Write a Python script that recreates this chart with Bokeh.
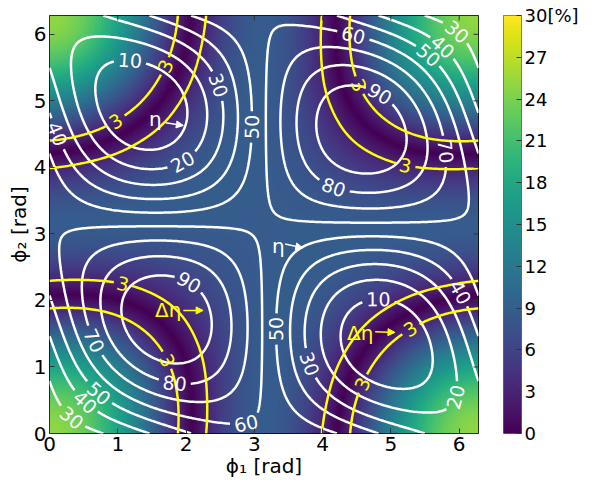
import numpy as np
from bokeh.plotting import figure
from bokeh.plotting.contour import contour_data
from bokeh.models import (ColumnDataSource, LinearColorMapper, FixedTicker,
                          Arrow, NormalHead, Range1d)
from bokeh.layouts import row
from bokeh.palettes import Viridis256
from bokeh.embed import file_html
from bokeh.resources import INLINE
from bokeh.core.properties import value

# ---------------- values ----------------
# grid nodes (degrees) for both phases; rows = phi2, columns = phi1
phi_nodes_deg = [0, 30, 60, 90, 120, 150, 180, 210, 240, 270, 300, 330, 360]

# efficiency eta [%] (white contours)
eta = [
    [25.0, 27.3, 33.4, 41.8, 50.3, 56.4, 58.7, 56.4, 50.3, 41.8, 33.4, 27.3, 25.0],
    [27.3, 41.5, 56.1, 67.2, 71.8, 68.7, 58.7, 44.5, 29.8, 18.7, 14.1, 17.2, 27.3],
    [33.4, 56.1, 76.1, 88.0, 88.7, 78.0, 58.7, 36.0, 16.0, 4.1, 3.4, 14.1, 33.4],
    [41.8, 67.2, 88.0, 98.8, 96.5, 81.8, 58.7, 33.3, 12.5, 1.8, 4.1, 18.7, 41.8],
    [50.3, 71.8, 88.7, 96.5, 92.9, 79.1, 58.7, 37.1, 20.2, 12.5, 16.0, 29.8, 50.3],
    [56.4, 68.7, 78.0, 81.8, 79.1, 70.7, 58.7, 46.4, 37.1, 33.3, 36.0, 44.5, 56.4],
    [58.7, 58.7, 58.7, 58.7, 58.7, 58.7, 58.7, 58.7, 58.7, 58.7, 58.7, 58.7, 58.7],
    [56.4, 44.5, 36.0, 33.3, 37.1, 46.4, 58.7, 70.7, 79.1, 81.8, 78.0, 68.7, 56.4],
    [50.3, 29.8, 16.0, 12.5, 20.2, 37.1, 58.7, 79.1, 92.9, 96.5, 88.7, 71.8, 50.3],
    [41.8, 18.7, 4.1, 1.8, 12.5, 33.3, 58.7, 81.8, 96.5, 98.8, 88.0, 67.2, 41.8],
    [33.4, 14.1, 3.4, 4.1, 16.0, 36.0, 58.7, 78.0, 88.7, 88.0, 76.1, 56.1, 33.4],
    [27.3, 17.2, 14.1, 18.7, 29.8, 44.5, 58.7, 68.7, 71.8, 67.2, 56.1, 41.5, 27.3],
    [25.0, 27.3, 33.4, 41.8, 50.3, 56.4, 58.7, 56.4, 50.3, 41.8, 33.4, 27.3, 25.0],
]

# efficiency deviation delta-eta [%] (signed; colour shows its magnitude)
deta = [
    [-25.0, -22.7, -16.6, -8.2, 0.3, 6.4, 8.7, 6.4, 0.3, -8.2, -16.6, -22.7, -25.0],
    [-22.7, -21.0, -15.5, -7.8, 0.2, 6.2, 8.7, 7.0, 1.5, -6.3, -14.2, -20.3, -22.7],
    [-16.6, -15.5, -11.4, -5.3, 1.2, 6.3, 8.7, 7.6, 3.5, -2.6, -9.1, -14.2, -16.6],
    [-8.2, -7.8, -5.3, -1.2, 3.2, 6.8, 8.7, 8.3, 5.8, 1.8, -2.6, -6.3, -8.2],
    [0.3, 0.2, 1.2, 3.2, 5.4, 7.5, 8.7, 8.8, 7.7, 5.8, 3.5, 1.5, 0.3],
    [6.4, 6.2, 6.3, 6.8, 7.5, 8.2, 8.7, 8.9, 8.8, 8.3, 7.6, 7.0, 6.4],
    [8.7, 8.7, 8.7, 8.7, 8.7, 8.7, 8.7, 8.7, 8.7, 8.7, 8.7, 8.7, 8.7],
    [6.4, 7.0, 7.6, 8.3, 8.8, 8.9, 8.7, 8.2, 7.5, 6.8, 6.3, 6.2, 6.4],
    [0.3, 1.5, 3.5, 5.8, 7.7, 8.8, 8.7, 7.5, 5.4, 3.2, 1.2, 0.2, 0.3],
    [-8.2, -6.3, -2.6, 1.8, 5.8, 8.3, 8.7, 6.8, 3.2, -1.2, -5.3, -7.8, -8.2],
    [-16.6, -14.2, -9.1, -2.6, 3.5, 7.6, 8.7, 6.3, 1.2, -5.3, -11.4, -15.5, -16.6],
    [-22.7, -20.3, -14.2, -6.3, 1.5, 7.0, 8.7, 6.2, 0.2, -7.8, -15.5, -21.0, -22.7],
    [-25.0, -22.7, -16.6, -8.2, 0.3, 6.4, 8.7, 6.4, 0.3, -8.2, -16.6, -22.7, -25.0],
]

eta_levels = [10, 20, 30, 40, 50, 60, 70, 80, 90]
deta_levels = [3]
axis_ticks = [0, 1, 2, 3, 4, 5, 6]
cbar_low, cbar_high = 0, 30
cbar_ticks = [0, 3, 6, 9, 12, 15, 18, 21, 24, 27, 30]
cbar_top_label = "30[%]"
x_label = "ϕ₁ [rad]"
y_label = "ϕ₂ [rad]"

# inline contour labels (approximate spots)
eta_lab_text = ["10", "30", "50", "20", "40",
                "60", "30", "40", "50", "90", "70", "80",
                "90", "70", "80", "50", "40", "30", "60",
                "10", "50", "40", "30", "20"]
eta_lab_x = [1.18, 2.50, 2.94, 1.96, 0.16,
             4.45, 5.91, 5.75, 5.54, 4.81, 5.86, 4.14,
             2.06, 0.75, 1.84, 0.77, 0.60, 0.41, 2.89,
             4.81, 3.33, 5.98, 3.86, 6.04]
eta_lab_y = [5.64, 5.24, 4.60, 4.08, 4.53,
             5.98, 5.96, 5.82, 5.68, 5.07, 4.26, 3.68,
             2.30, 1.44, 0.77, 0.67, 0.55, 0.34, 0.07,
             1.97, 1.56, 2.10, 1.07, 0.52]
deta_lab_text = ["3", "3", "3", "3", "3", "3", "3", "3"]
deta_lab_x = [0.94, 1.82, 4.52, 5.18, 1.11, 1.77, 5.32, 4.43]
deta_lab_y = [4.75, 5.46, 5.22, 3.86, 2.40, 1.11, 1.51, 0.82]

# pointer annotations
ann_text = ["η", "η", "Δη", "Δη"]
ann_color = ["white", "white", "yellow", "yellow"]
ann_x = [1.55, 3.35, 1.74, 4.55]
ann_y = [4.72, 2.82, 1.85, 1.51]
arr_x0 = [1.70, 3.45, 1.96, 4.77]
arr_y0 = [4.67, 2.85, 1.85, 1.53]
arr_x1 = [1.96, 3.71, 2.25, 5.06]
arr_y1 = [4.63, 2.79, 1.85, 1.52]

# ---------------- layout constants ----------------
TWO_PI = 2 * np.pi
FONT = "DejaVu Sans"
FIG_H = 480
B_LEFT, B_TOP, B_BOTTOM, B_RIGHT = 49, 15, 47, 4
FRAME_W = 429
FRAME_H = FIG_H - B_TOP - B_BOTTOM
MAIN_W = B_LEFT + FRAME_W + B_RIGHT
CB_W = 581 - MAIN_W
CB_GAP, CB_BAR = 21, 21
SX, SY = FRAME_W / TWO_PI, FRAME_H / TWO_PI
TICK_LEN = 5
LABEL_PX = 19

# ---------------- smooth periodic rendering of the grids ----------------
nodes = np.radians(phi_nodes_deg[:-1])          # periodic: last node == first
fine = np.linspace(0.0, TWO_PI, 241)
diff = fine[:, None] - nodes[None, :]
kern = (1.0 + 2.0 * sum(np.cos(k * diff) for k in range(1, 6)) + np.cos(6 * diff)) / len(nodes)
eta_grid = kern @ np.array(eta)[:-1, :-1] @ kern.T
deta_grid = np.abs(kern @ np.array(deta)[:-1, :-1] @ kern.T)


def level_lines(z, levels):
    cd = contour_data(x=fine, y=fine, z=z, levels=levels, want_fill=False)
    return [(np.asarray(a, float).copy(), np.asarray(b, float).copy())
            for a, b in zip(cd.line_data.xs, cd.line_data.ys)]


def place_labels(lines, levels, texts, lx, ly, font_px):
    lv = [float(v) for v in levels]
    xs_o, ys_o, an_o, cuts = [], [], [], []
    for t, x0, y0 in zip(texts, lx, ly):
        k = lv.index(float(t))
        xa, ya = lines[k]
        if len(xa) == 0:
            xs_o.append(x0); ys_o.append(y0); an_o.append(0.0)
            continue
        d = np.hypot((xa - x0) * SX, (ya - y0) * SY)
        d[np.isnan(d)] = np.inf
        i = int(np.argmin(d))
        j0 = i
        for _ in range(4):
            if j0 - 1 >= 0 and not np.isnan(xa[j0 - 1]):
                j0 -= 1
        j1 = i
        for _ in range(4):
            if j1 + 1 < len(xa) and not np.isnan(xa[j1 + 1]):
                j1 += 1
        ang = np.arctan2((ya[j1] - ya[j0]) * SY, (xa[j1] - xa[j0]) * SX)
        if ang > np.pi / 2:
            ang -= np.pi
        elif ang < -np.pi / 2:
            ang += np.pi
        xs_o.append(float(xa[i])); ys_o.append(float(ya[i])); an_o.append(float(ang))
        cuts.append((k, xa[i], ya[i], 0.5 * len(t) * 0.64 * font_px + 3))
    for k, sx, sy, r in cuts:
        xa, ya = lines[k]
        m = np.hypot((xa - sx) * SX, (ya - sy) * SY) < r
        xa[m] = np.nan
        ya[m] = np.nan
    return xs_o, ys_o, an_o


eta_lines = level_lines(eta_grid, eta_levels)
deta_lines = level_lines(deta_grid, deta_levels)
ex, ey, ea = place_labels(eta_lines, eta_levels, eta_lab_text, eta_lab_x, eta_lab_y, LABEL_PX)
dx, dy, da = place_labels(deta_lines, deta_levels, deta_lab_text, deta_lab_x, deta_lab_y, LABEL_PX)

# ---------------- main figure ----------------
p = figure(width=MAIN_W, height=FIG_H, x_range=Range1d(0, TWO_PI), y_range=Range1d(0, TWO_PI),
           output_backend="svg", toolbar_location=None,
           min_border_left=B_LEFT, min_border_right=B_RIGHT,
           min_border_top=B_TOP, min_border_bottom=B_BOTTOM)
p.grid.visible = False
p.outline_line_color = "black"
p.outline_line_width = 1

mapper = LinearColorMapper(palette=Viridis256, low=cbar_low, high=cbar_high)
p.image(image=[deta_grid], x=0, y=0, dw=TWO_PI, dh=TWO_PI, color_mapper=mapper)

p.multi_line(xs=[l[0] for l in eta_lines], ys=[l[1] for l in eta_lines],
             line_color="white", line_width=2.5)
p.multi_line(xs=[l[0] for l in deta_lines], ys=[l[1] for l in deta_lines],
             line_color="yellow", line_width=2.5)

p.text(x="x", y="y", text="t", angle="a",
       source=ColumnDataSource(dict(x=ex, y=ey, t=eta_lab_text, a=ea)),
       text_align="center", text_baseline="middle", text_color="white",
       text_font=value(FONT), text_font_size=f"{LABEL_PX}px")
p.text(x="x", y="y", text="t", angle="a",
       source=ColumnDataSource(dict(x=dx, y=dy, t=deta_lab_text, a=da)),
       text_align="center", text_baseline="middle", text_color="yellow",
       text_font=value(FONT), text_font_size=f"{LABEL_PX}px")

p.text(x="x", y="y", text="t", text_color="c",
       source=ColumnDataSource(dict(x=ann_x, y=ann_y, t=ann_text, c=ann_color)),
       text_align="center", text_baseline="middle",
       text_font=value(FONT), text_font_size="20px")
for x0, y0, x1, y1, c in zip(arr_x0, arr_y0, arr_x1, arr_y1, ann_color):
    p.add_layout(Arrow(end=NormalHead(size=7, fill_color=c, line_color=c),
                       x_start=x0, y_start=y0, x_end=x1, y_end=y1,
                       line_color=c, line_width=1.5))

# inward tick marks on the top and right edges (mirroring the axis ticks)
tk = np.array(axis_ticks, float)
p.segment(x0=tk, y0=np.full(tk.size, TWO_PI), x1=tk, y1=np.full(tk.size, TWO_PI - TICK_LEN / SY),
          line_color="#333333", line_width=1)
p.segment(x0=np.full(tk.size, TWO_PI), y0=tk, x1=np.full(tk.size, TWO_PI - TICK_LEN / SX), y1=tk,
          line_color="#333333", line_width=1)

for ax in (p.xaxis[0], p.yaxis[0]):
    ax.ticker = FixedTicker(ticks=axis_ticks)
    ax.major_label_text_font_size = "20px"
    ax.major_label_text_font = FONT
    ax.major_label_text_color = "black"
    ax.axis_label_text_font_size = "20px"
    ax.axis_label_text_font = FONT
    ax.axis_label_text_font_style = "normal"
    ax.axis_label_text_color = "black"
    ax.major_tick_in = TICK_LEN
    ax.major_tick_out = 0
    ax.major_tick_line_color = "#333333"
    ax.minor_tick_line_color = None
    ax.axis_line_color = None
    ax.major_label_standoff = 3
    ax.axis_label_standoff = 0
p.xaxis.axis_label = x_label
p.yaxis.axis_label = y_label

# ---------------- colour bar (second narrow figure) ----------------
cb = figure(width=CB_W, height=FIG_H, x_range=Range1d(0, 1), y_range=Range1d(cbar_low, cbar_high),
            output_backend="svg", toolbar_location=None,
            x_axis_location=None, y_axis_location="right",
            min_border_left=CB_GAP, min_border_right=CB_W - CB_GAP - CB_BAR,
            min_border_top=B_TOP, min_border_bottom=B_BOTTOM)
cb.grid.visible = False
cb.outline_line_color = "#666666"
cb.outline_line_width = 1
cb.image(image=[np.linspace(cbar_low, cbar_high, 256)[:, None]], x=0, y=cbar_low,
         dw=1, dh=cbar_high - cbar_low, color_mapper=mapper)
cax = cb.yaxis[0]
cax.ticker = FixedTicker(ticks=cbar_ticks)
cax.major_label_overrides = {cbar_high: cbar_top_label}
cax.major_label_text_font_size = "18px"
cax.major_label_text_font = FONT
cax.major_label_text_color = "black"
cax.major_tick_in = TICK_LEN
cax.major_tick_out = 0
cax.major_tick_line_color = "#333333"
cax.minor_tick_line_color = None
cax.axis_line_color = None
cax.major_label_standoff = 3

layout = row(p, cb)
open("out.html", "w").write(file_html(layout, INLINE))
